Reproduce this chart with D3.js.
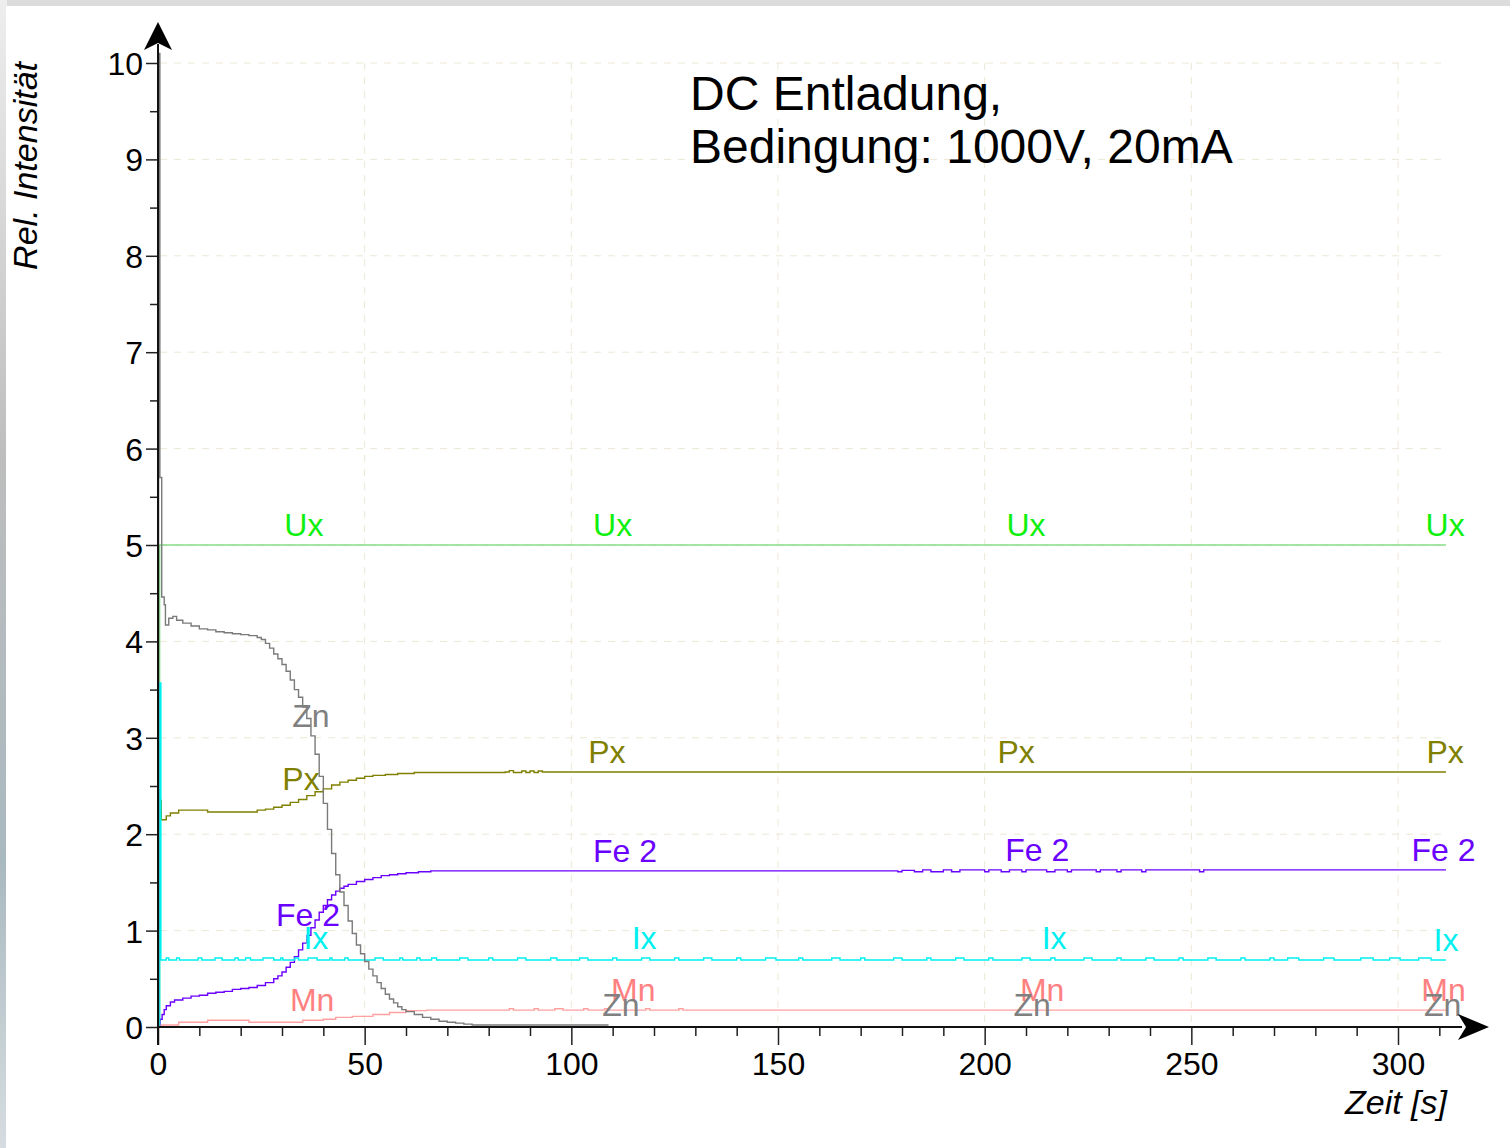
<!DOCTYPE html>
<html lang="de">
<head>
<meta charset="UTF-8">
<title>DC Entladung</title>
<style>
    body {
        margin: 0;
        padding: 0;
        overflow: hidden;
        background-color: #dcdcdc;
    }
    svg {
        display: block;
        font-family: "Liberation Sans", Arial, sans-serif;
    }
</style>
</head>
<body>
<script src="https://d3js.org/d3.v7.min.js"></script>
<script>
    // time [s], relative intensity
    const znData = [[0,0],[0.15,10.1],[0.45,5.7],[0.9,4.46],[1.5,4.38],[1.8,4.17],[2.6,4.24],[3.6,4.26],[4.5,4.22],[6,4.19],[8,4.16],[10,4.13],[12,4.12],[14,4.1],[16,4.09],[18,4.08],[20,4.07],[22,4.06],[24,4.04],[25,4.02],[26,3.98],[27,3.93],[28,3.87],[29,3.82],[30,3.76],[31,3.69],[32,3.6],[33,3.5],[34,3.42],[35,3.32],[36,3.2],[37,3.02],[38,2.83],[39,2.6],[40,2.32],[41,2.05],[42,1.8],[43,1.58],[44,1.4],[45,1.26],[46,1.1],[47,0.97],[48,0.85],[49,0.76],[50,0.68],[51,0.6],[52,0.53],[53,0.46],[54,0.4],[55,0.34],[56,0.29],[57,0.25],[58,0.21],[59,0.18],[60,0.16],[62,0.13],[64,0.1],[66,0.08],[68,0.06],[70,0.05],[72,0.04],[74,0.03],[76,0.02],[109,0.02]];
    const pxData = [[0,0],[0.2,3.2],[0.5,2.35],[0.8,2.15],[2,2.19],[3,2.22],[5,2.25],[9,2.25],[12,2.23],[20,2.23],[24,2.25],[26,2.26],[28,2.28],[30,2.3],[32,2.33],[34,2.36],[36,2.4],[38,2.44],[40,2.47],[42,2.51],[44,2.54],[46,2.56],[48,2.58],[50,2.6],[52,2.61],[55,2.62],[58,2.63],[62,2.64],[84,2.645],[85,2.66],[86,2.64],[88,2.655],[89,2.64],[90,2.655],[91,2.64],[92,2.655],[93,2.645],[311.6,2.645]];
    const feData = [[0,0],[0.5,0.08],[1,0.13],[1.5,0.18],[2,0.22],[3,0.26],[4,0.28],[6,0.3],[8,0.32],[10,0.33],[12,0.35],[14,0.36],[16,0.37],[18,0.39],[20,0.4],[22,0.41],[24,0.43],[26,0.46],[28,0.5],[29,0.53],[30,0.57],[31,0.62],[32,0.67],[33,0.73],[34,0.8],[35,0.87],[36,0.95],[37,1.03],[38,1.11],[39,1.19],[40,1.26],[41,1.32],[42,1.37],[43,1.41],[44,1.44],[45,1.46],[46,1.48],[48,1.51],[50,1.53],[52,1.55],[54,1.57],[56,1.58],[58,1.59],[60,1.6],[63,1.61],[66,1.62],[178,1.62],[179,1.61],[180,1.625],[183,1.61],[185,1.63],[187,1.61],[190,1.63],[192,1.61],[194,1.63],[200,1.61],[201,1.63],[204,1.61],[206,1.63],[209,1.61],[210,1.63],[215,1.61],[217,1.63],[220,1.61],[221,1.63],[227,1.61],[228,1.63],[232,1.61],[233,1.63],[238,1.61],[239,1.63],[252,1.61],[253,1.63],[311.6,1.63]];
    const mnData = [[0,0],[0.8,0.02],[5,0.05],[12,0.07],[22,0.05],[35,0.07],[40,0.08],[43,0.1],[47,0.11],[52,0.13],[56,0.15],[60,0.17],[65,0.175],[84,0.175],[85,0.19],[86,0.175],[91,0.19],[92,0.175],[96,0.19],[98,0.175],[103,0.19],[104,0.175],[108,0.19],[109,0.175],[118,0.19],[119,0.175],[126,0.19],[127,0.175],[311.6,0.175]];
    const uxData = [[0,0],[0.4,5.0],[311.6,5.0]];
    const ixBase = 0.695;
    const ixPeak = 3.57;
    const ixBumps = [[2,2.6],[4.5,5.2],[9.7,10.6],[13.8,15.5],[18.6,19.4],[21.2,22.4],[25.4,28],[29.7,30.2],[33.1,34],[36.3,38.5],[41.6,42.1],[45.2,46],[52.5,54.5],[58.5,59.2],[62.6,63.4],[66.2,67.4],[73,75],[80,81],[87,89],[95,96.5],[102,104],[110,111],[117,119],[125,126],[132,134],[140,141],[147,149.5],[155,156],[163,165],[170,171],[178,180],[186,187],[193,195],[201,202],[209,211],[216,217],[224,226],[232,233],[239,241],[247,248],[254,256],[262,263],[269,270],[273.3,276],[282,284.5],[291,294],[298,300.5],[305,308]];
    const ixEnd = 311.6;

    const seriesNames = ['Ux', 'Px', 'Fe 2', 'Ix', 'Mn', 'Zn'];
    const labelColors = ['#10f010', '#808000', '#6a00ff', '#00f0f0', '#ff8080', '#808080'];
    const lineColors = ['#88dd88', '#808000', '#6a00ff', '#00f0f0', '#ffa0a0', '#7a7a7a'];
    const labelTimes = [
        [35.3, 110, 210, 311.4],
        [34.6, 108.6, 207.6, 311.4],
        [36.3, 113, 212.7, 311],
        [38.2, 117.6, 216.8, 311.6],
        [37.3, 115, 213.9, 311],
        [37.0, 112, 211.5, 310.8]
    ];

    const xMajor = [0, 50, 100, 150, 200, 250, 300];
    const xMinor = d3.range(0, 311, 10);
    const yMajor = [0, 1, 2, 3, 4, 5, 6, 7, 8, 9, 10];
    const yMinor = d3.range(0.5, 10, 1);

    const title = ['DC Entladung,', 'Bedingung: 1000V, 20mA'];

    // Ix built from its base level and the short bumps
    const ixData = [[0, 0], [0.4, ixPeak], [0.7, ixBase]];
    ixBumps.forEach(b => {
        ixData.push([b[0], 0.715]);
        ixData.push([b[1], ixBase]);
    });
    ixData.push([ixEnd, ixBase]);

    const allData = [uxData, pxData, feData, ixData, mnData, znData];

    const width = 1510;
    const height = 1148;

    const x = d3.scaleLinear().domain([0, 300]).range([158, 1398]);
    const y = d3.scaleLinear().domain([0, 10]).range([1027, 63]);

    const svg = d3.select('body').append('svg')
        .attr('width', width)
        .attr('height', height);

    const defs = svg.append('defs');
    const grad = defs.append('linearGradient')
        .attr('id', 'edge')
        .attr('x1', 0).attr('y1', 0).attr('x2', 0).attr('y2', 1);
    grad.append('stop').attr('offset', '0%').attr('stop-color', '#eeeeee');
    grad.append('stop').attr('offset', '40%').attr('stop-color', '#bdbdbd');
    grad.append('stop').attr('offset', '75%').attr('stop-color', '#a9b9c0');
    grad.append('stop').attr('offset', '100%').attr('stop-color', '#d6dde0');

    svg.append('rect')
        .attr('x', 0).attr('y', 0)
        .attr('width', 7).attr('height', height)
        .attr('fill', 'url(#edge)');
    svg.append('rect')
        .attr('x', 6).attr('y', 6)
        .attr('width', width - 6).attr('height', height - 6)
        .attr('fill', '#ffffff');

    // grid
    const grid = svg.append('g')
        .attr('stroke', '#ece8d6')
        .attr('stroke-width', 1)
        .attr('stroke-dasharray', '7,7');
    grid.selectAll('line.h')
        .data(yMajor.slice(1))
        .enter().append('line')
        .attr('x1', x(0) + 2).attr('x2', x(311))
        .attr('y1', d => y(d)).attr('y2', d => y(d));
    grid.selectAll('line.v')
        .data(xMajor.slice(1))
        .enter().append('line')
        .attr('x1', d => x(d)).attr('x2', d => x(d))
        .attr('y1', y(10)).attr('y2', y(0));

    // series
    const line = d3.line()
        .x(d => x(d[0]))
        .y(d => y(d[1]))
        .curve(d3.curveStepAfter);

    svg.append('g').selectAll('path')
        .data(allData)
        .enter().append('path')
        .attr('d', line)
        .attr('fill', 'none')
        .attr('stroke', (d, i) => lineColors[i])
        .attr('stroke-width', 1.4);

    // series labels
    function valueAt(data, t) {
        const i = d3.bisector(d => d[0]).right(data, t) - 1;
        return data[Math.max(0, Math.min(i, data.length - 1))][1];
    }

    seriesNames.forEach((name, i) => {
        svg.append('g').selectAll('text')
            .data(labelTimes[i])
            .enter().append('text')
            .attr('x', d => x(d))
            .attr('y', d => y(valueAt(allData[i], d)) - 9)
            .attr('text-anchor', 'middle')
            .attr('font-size', 32)
            .attr('fill', labelColors[i])
            .text(name);
    });

    // axes
    svg.append('g')
        .attr('transform', `translate(0,${y(0)})`)
        .call(d3.axisBottom(x).tickValues(xMajor).tickSize(18).tickPadding(7));
    svg.append('g')
        .attr('transform', `translate(0,${y(0)})`)
        .call(d3.axisBottom(x).tickValues(xMinor.filter(d => d % 50 !== 0)).tickSize(9).tickFormat(''));
    const yAxis = svg.append('g')
        .attr('transform', `translate(${x(0)},0)`)
        .call(d3.axisLeft(y).tickValues(yMajor).tickSize(12).tickPadding(3));
    svg.append('g')
        .attr('transform', `translate(${x(0)},0)`)
        .call(d3.axisLeft(y).tickValues(yMinor).tickSize(8).tickFormat(''));

    svg.selectAll('.domain').remove();
    svg.selectAll('.tick line').attr('stroke', '#222').attr('stroke-width', 1.5);
    svg.selectAll('.tick text')
        .attr('font-size', 32)
        .attr('font-family', '"Liberation Sans", Arial, sans-serif')
        .attr('fill', '#000');
    yAxis.selectAll('.tick text').attr('dy', '0.36em');

    svg.append('line')
        .attr('x1', x(0)).attr('x2', 1462)
        .attr('y1', y(0)).attr('y2', y(0))
        .attr('stroke', '#111').attr('stroke-width', 2);
    svg.append('line')
        .attr('x1', x(0)).attr('x2', x(0))
        .attr('y1', y(0) + 18).attr('y2', 44)
        .attr('stroke', '#111').attr('stroke-width', 2);

    // arrow heads
    const ax = x(0), ay = y(0);
    svg.append('path')
        .attr('d', `M${ax},22 L${ax + 14},50 L${ax},43 L${ax - 14},50 Z`)
        .attr('fill', '#000');
    svg.append('path')
        .attr('d', `M1489,${ay} L1458,${ay + 13} L1466,${ay} L1458,${ay - 13} Z`)
        .attr('fill', '#000');

    // axis titles
    svg.append('text')
        .attr('transform', 'translate(37,62) rotate(-90)')
        .attr('text-anchor', 'end')
        .attr('font-size', 34)
        .attr('font-style', 'italic')
        .text('Rel. Intensität');
    svg.append('text')
        .attr('x', 1447)
        .attr('y', 1114)
        .attr('text-anchor', 'end')
        .attr('font-size', 34)
        .attr('font-style', 'italic')
        .text('Zeit [s]');

    // title
    svg.append('g').selectAll('text')
        .data(title)
        .enter().append('text')
        .attr('x', 690)
        .attr('y', (d, i) => 110 + i * 53)
        .attr('font-size', 48)
        .attr('fill', '#000')
        .text(d => d);
</script>
</body>
</html>
